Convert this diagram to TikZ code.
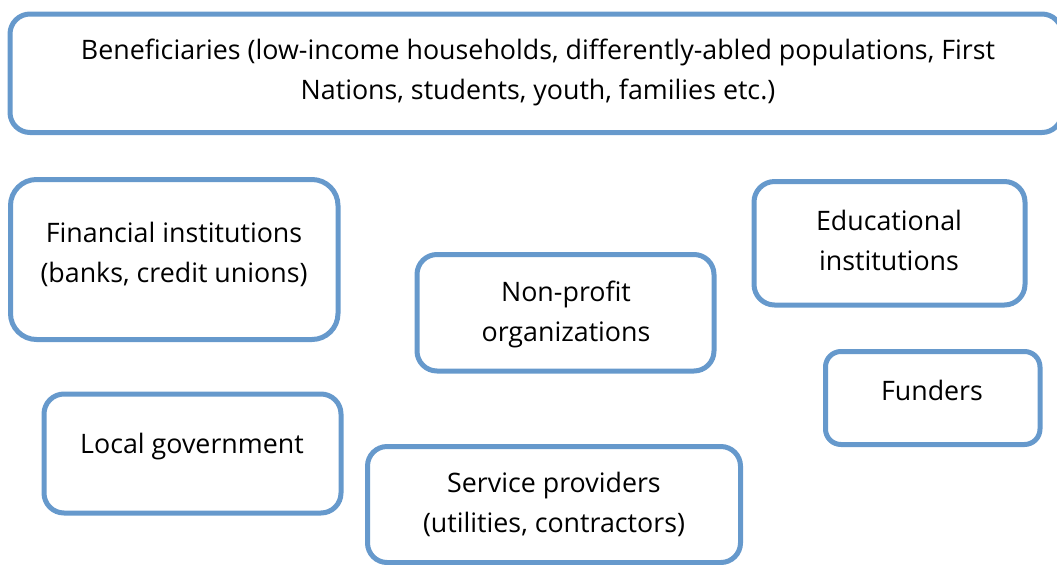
\documentclass[tikz,border=0pt]{standalone}
\usepackage{fontspec}
\setmainfont{Open Sans}
\definecolor{boxblue}{RGB}{102,153,204}

\tikzset{
    box/.style={draw=boxblue, line width=2.5pt, rounded corners=#1, fill=white},
    lbl/.style={align=center, font=\fontsize{13.4}{20}\selectfont, inner sep=0pt}
}

\begin{document}
\begin{tikzpicture}[x=0.5pt, y=-0.5pt]

            % Page size of the reference, in pixels
            \useasboundingbox (0,0) rectangle (1057,564);
            \clip (0,0) rectangle (1057,564);

            % The rounded boxes: name/centre x/centre y/width/height/corner
            \foreach \nm/\cx/\cy/\w/\h/\r in {
            ben/536/73.25/1052/118.5/10pt,
            fin/174.25/259.5/327.5/160/13pt,
            edu/889.5/243.25/271/123.5/10.3pt,
            npo/565.5/312.75/297/116.5/10pt,
            fund/932.75/398/214.5/93/7.75pt,
            gov/192.5/453.5/297/119/10pt,
            svc/554/504.5/373/116/9.8pt} {
            \node [box=\r, minimum width=\w*0.5pt, minimum height=\h*0.5pt] (\nm) at (\cx,\cy) {};
            }

            % The texts inside the boxes
            \node [lbl] (bentext) at (538,72.5) {Beneficiaries (low-income households, differently-abled populations, First\\Nations, students, youth, families etc.)};
            \node [lbl] (fintext) at (174,254) {Financial institutions\\(banks, credit unions)};
            \node [lbl] (edutext) at (889,240) {Educational\\institutions};
            \node [lbl] (npotext) at (566,314.5) {Non-profit\\organizations};
            \node [lbl] (fundtext) at (932,390) {Funders};
            \node [lbl] (govtext) at (192,447) {Local government};
            \node [lbl] (svctext) at (554,504) {Service providers\\(utilities, contractors)};

\end{tikzpicture}
\end{document}
